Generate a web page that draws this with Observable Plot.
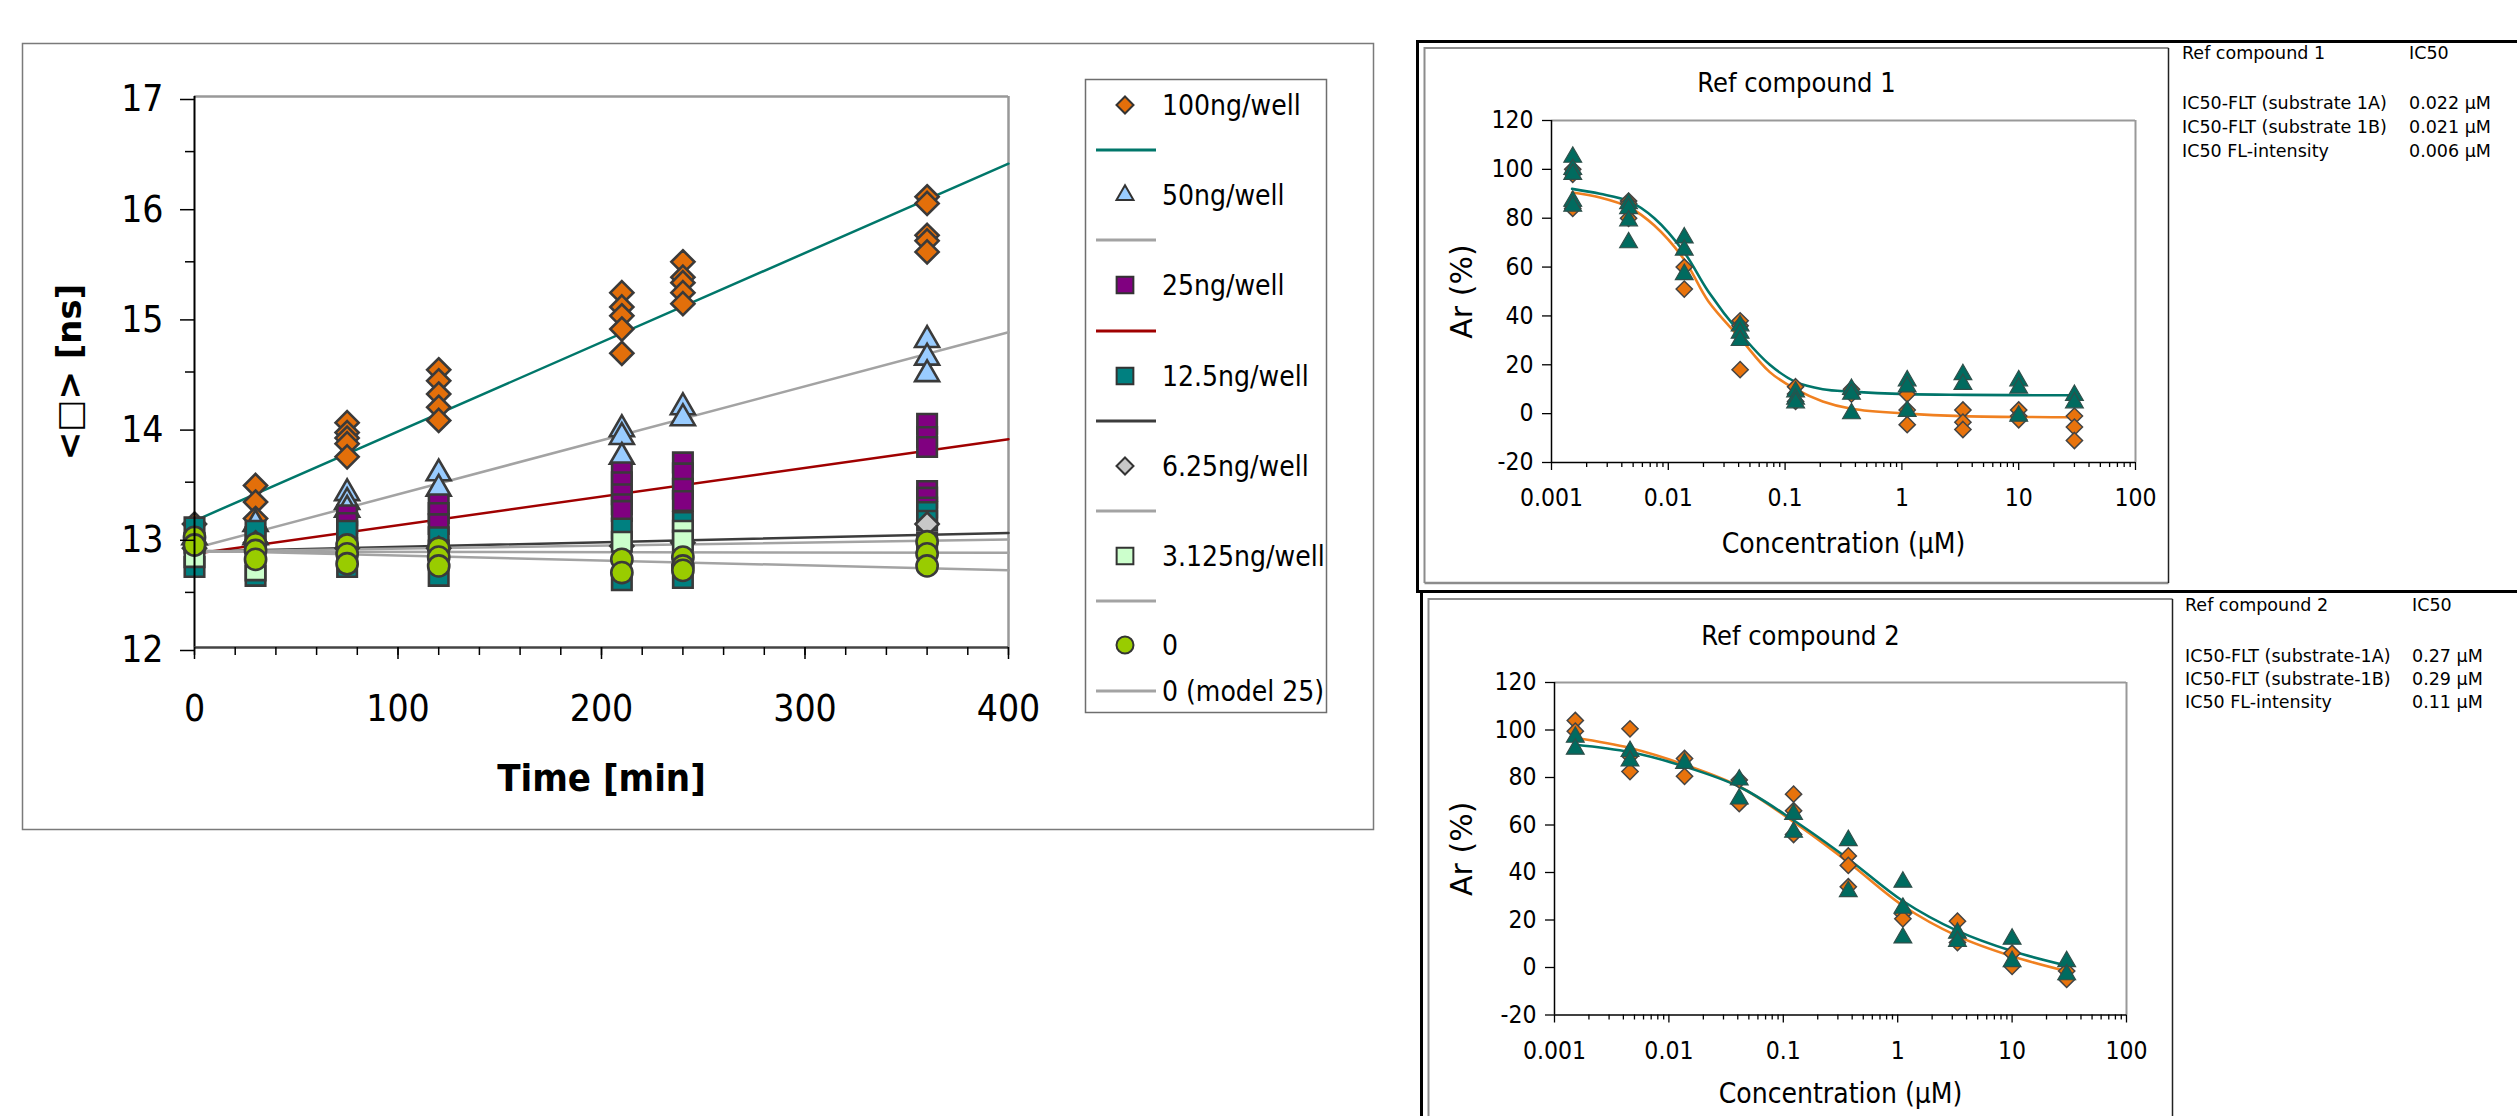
<!DOCTYPE html>
<html>
<head>
<meta charset="utf-8">
<script src="https://cdn.jsdelivr.net/npm/d3@7"></script>
<script src="https://cdn.jsdelivr.net/npm/@observablehq/plot@0.6"></script>
<style>
html,body{margin:0;padding:0;background:#fff;}
body{width:2517px;height:1116px;position:relative;overflow:hidden;}
.chart{position:absolute;}
.chart svg{display:block;overflow:visible;}
</style>
</head>
<body>
<script>
// ---------------- DATA: lifetime <tau> vs time (left chart) ----------------
const times = [0, 30, 75, 120, 210, 240, 360];
const tau100 = [[13.12],[13.47,13.32,13.17],[14.04,13.95,13.9,13.85,13.73],[14.52,14.42,14.30,14.18,14.06],[15.22,15.09,15.01,14.89,14.67],[15.50,15.36,15.31,15.22,15.12],[16.09,16.03,15.74,15.69,15.59]];
const tau50  = [[13.0],[13.12,13.0],[13.40,13.32,13.25],[13.58,13.44],[13.98,13.91,13.73],[14.18,14.08],[14.79,14.63,14.48]];
const tau25  = [[12.95],[13.0],[13.2,13.13,13.05],[13.3,13.22,13.12],[13.59,13.50,13.39,13.30,13.24],[13.68,13.58,13.44,13.33],[14.03,13.91,13.82,13.42,13.36,13.27]];
const tau12  = [[13.09,12.73],[13.06,12.65],[13.06,12.73],[13.0,12.65],[13.08,12.61],[13.14,12.63],[13.23,13.15]];
const tau6   = [[12.9],[12.95],[12.9],[12.9],[12.92],[12.95],[13.12]];
const tau3   = [[12.82],[12.70],[12.9],[12.88],[12.96],[13.06,12.97],[12.95]];
const tau0   = [[13.0,12.93],[12.94,12.88,12.80],[12.93,12.85,12.76],[12.9,12.82,12.74],[12.80,12.68],[12.82,12.74,12.70],[12.96,12.85,12.74]];
const seriesNames = ["100ng/well","50ng/well","25ng/well","12.5ng/well","6.25ng/well","3.125ng/well","0"];

const modelTimes = [0, 400];
const model100 = [13.15, 16.39];
const model50  = [12.90, 14.86];
const model25  = [12.85, 13.89];
const model12  = [12.87, 13.04];
const model6   = [12.87, 12.98];
const model3   = [12.87, 12.86];
const model0   = [12.88, 12.70];
const modelNames = ["", "", "", "", "", "", "0 (model 25)"];

const yTicksLeft = [12, 13, 14, 15, 16, 17];
const xTicksLeft = [0, 100, 200, 300, 400];

// ---------------- DATA: dose-response panels ----------------
const conc = [0.00152, 0.00457, 0.0137, 0.0412, 0.123, 0.370, 1.11, 3.33, 10, 30];
const ref1Orange = [[100,98,85,84],[87,86,80],[60,51],[38,36,18],[11,8,5],[10,8],[8,1.5,-4.5],[1.5,-3.5,-6.5],[1.5,-1,-2.5],[-1,-5.5,-11]];
const ref1Teal   = [[105,100,98,87,85],[86,84,79,70],[72,67,57],[36,33,30],[9,6,4.5],[10,8,0],[13.5,11,1],[16,12],[13.5,10.5,-1],[7.5,4.5]];
const ref1CurveX      = [0.0015,0.0026,0.0046,0.0076,0.0137,0.022,0.041,0.074,0.123,0.21,0.37,1.11,3.33,30];
const ref1CurveTeal   = [92,90,87,80,66,50,33,20,13,10,9,8,7.7,7.5];
const ref1CurveOrange = [90.5,88.5,84.5,77,63,46,31,17,10,5,2,0,-1,-1.5];

const ref2Orange = [[104,99.5],[100.5,89,82.5],[88,80.5],[79,69],[73,66,56],[47,43,34],[22.5,20.5],[19.5,10.5],[6,0.5],[-1.5,-5]];
const ref2Teal   = [[97,92],[91,87],[86],[79,71],[64.5,57],[53.5,32],[36,25,12.5],[14.5,11],[12,2.5],[2.5,-3]];
const ref2CurveOrange = [96.7,92.4,85.4,76.2,61.3,44.3,26,13.2,4.7,-1.6];
const ref2CurveTeal   = [93.8,90.7,84.6,76.1,62,45.7,28,15.4,6.9,0.8];

const concTicks = [0.001, 0.01, 0.1, 1, 10, 100];
const arTicks = [-20, 0, 20, 40, 60, 80, 100, 120];

const table1Title = ["Ref compound 1", "IC50"];
const table1Rows = [["IC50-FLT (substrate 1A)","0.022 µM"],["IC50-FLT (substrate 1B)","0.021 µM"],["IC50 FL-intensity","0.006 µM"]];
const table2Title = ["Ref compound 2", "IC50"];
const table2Rows = [["IC50-FLT (substrate-1A)","0.27 µM"],["IC50-FLT (substrate-1B)","0.29 µM"],["IC50 FL-intensity","0.11 µM"]];

// ---------------- STYLES ----------------
const COND = "'DejaVu Sans Condensed','Liberation Sans Narrow','DejaVu Sans',sans-serif";
const SANS = "'DejaVu Sans',Verdana,sans-serif";
const seriesStyle = [
  {symbol:"diamond2", r:10.4, fill:"#e36f0a", d3s:d3.symbolDiamond2, lsize:184},
  {symbol:"triangle", r:8.9, fill:"#99ccff", d3s:d3.symbolTriangle, lsize:125},
  {symbol:"square",   r:11.0, fill:"#800080", d3s:d3.symbolSquare, lsize:280},
  {symbol:"square",   r:11.0, fill:"#008080", d3s:d3.symbolSquare, lsize:280},
  {symbol:"diamond2", r:10.4, fill:"#c8c8c8", d3s:d3.symbolDiamond2, lsize:184},
  {symbol:"square",   r:11.0, fill:"#ccffcc", d3s:d3.symbolSquare, lsize:280},
  {symbol:"circle",   r:10.6, fill:"#99cc00", d3s:d3.symbolCircle, lsize:227}
];
const modelStyle = ["#00776a","#a3a3a3","#a00000","#3c3c3c","#a3a3a3","#a3a3a3","#a3a3a3"];

const tauSeries = [tau100, tau50, tau25, tau12, tau6, tau3, tau0];
const models = [model100, model50, model25, model12, model6, model3, model0];

function tidy(groups, xs) {
  return groups.flatMap((vals, i) => vals.map(v => ({x: xs[i], y: v})));
}
function pairs(xs, ys) { return xs.map((x, i) => ({x, y: ys[i]})); }
const plain = d => String(d);

// ---------------- OVERLAY (frames + tables) ----------------
const W = 2517, H = 1116;
const ov = d3.select("body").append("svg")
  .attr("width", W).attr("height", H)
  .style("position","absolute").style("left","0px").style("top","0px");

ov.append("rect").attr("x",22.5).attr("y",43.5).attr("width",1351).attr("height",786)
  .attr("fill","none").attr("stroke","#7a7a7a").attr("stroke-width",1.5);
const blk = ov.append("g").attr("stroke","#000").attr("stroke-width",3).attr("fill","none");
blk.append("path").attr("d","M1416,41.5H2517");
blk.append("path").attr("d","M1417.5,40V593");
blk.append("path").attr("d","M1416,591.5H2517");
blk.append("path").attr("d","M1421.5,590V1116");
function innerBox(x, y, w, h) {
  const g = ov.append("g").attr("fill","none");
  g.append("path").attr("d",`M${x},${y+h}V${y}H${x+w}`).attr("stroke","#8c8c8c").attr("stroke-width",2);
  g.append("path").attr("d",`M${x},${y+h}H${x+w}`).attr("stroke","#8c8c8c").attr("stroke-width",2.5);
  g.append("path").attr("d",`M${x+w},${y}V${y+h}`).attr("stroke","#222").attr("stroke-width",1.5);
}
innerBox(1424.5, 48, 744, 535);
innerBox(1428.5, 599, 744, 540);

function table(x0, x1, yTitle, yRows, title, rows) {
  const g = ov.append("g").style("font-family", SANS).style("font-size","17.5px").attr("fill","#000");
  g.append("text").attr("x", x0).attr("y", yTitle).text(title[0]);
  g.append("text").attr("x", x1).attr("y", yTitle).text(title[1]);
  rows.forEach((r, i) => {
    g.append("text").attr("x", x0).attr("y", yRows[i]).text(r[0]);
    g.append("text").attr("x", x1).attr("y", yRows[i]).text(r[1]);
  });
}
table(2182, 2409, 59, [109, 133, 157], table1Title, table1Rows);
table(2185, 2412, 611, [662, 685, 708], table2Title, table2Rows);

function place(el, left, top) {
  const d = document.createElement("div");
  d.className = "chart";
  d.style.left = left + "px";
  d.style.top = top + "px";
  d.appendChild(el);
  document.body.appendChild(d);
}

// ---------------- LEFT CHART ----------------
{
  const marks = [
    Plot.ruleY([17], {stroke:"#999", strokeWidth:2.5}),
    Plot.ruleX([400], {stroke:"#999", strokeWidth:2.5})
  ];
  models.forEach((m, i) => {
    marks.push(Plot.line(pairs(modelTimes, m), {x:"x", y:"y", stroke: modelStyle[i], strokeWidth: 2.5}));
  });
  tauSeries.forEach((s, i) => {
    const st = seriesStyle[i];
    marks.push(Plot.dot(tidy(s, times), {x:"x", y:"y", symbol: st.symbol, r: st.r, fill: st.fill, stroke:"#3a3a3a", strokeWidth: 2.6}));
  });
  marks.push(
    Plot.ruleX([0], {stroke:"#000", strokeWidth:2}),
    Plot.ruleY([12], {stroke:"#444", strokeWidth:2.5}),
    Plot.axisY({ticks: yTicksLeft, tickSize: 14, tickPadding: 17, dy: 3, tickFormat: plain, label: null, strokeWidth: 1.5}),
    Plot.axisY({ticks: d3.range(12.5, 17, 1), tickSize: 9, tickFormat: () => "", label: null, strokeWidth: 1.5}),
    Plot.axisX({ticks: xTicksLeft, tickSize: 12, tickPadding: 35, tickFormat: plain, label: null, strokeWidth: 1.5}),
    Plot.axisX({ticks: d3.range(0, 401, 20), tickSize: 8, tickFormat: () => "", label: null, strokeWidth: 1.5}),
    Plot.text(["Time [min]"], {frameAnchor: "bottom", dy: 143, lineAnchor: "bottom", fontWeight: "bold", fontSize: 38}),
    Plot.text(["<□> [ns]"], {frameAnchor: "left", textAnchor: "middle", dx: -124, rotate: -90, fontWeight: "bold", fontSize: 34, fontFamily: SANS})
  );
  const p = Plot.plot({
    width: 1352, height: 787,
    marginLeft: 172, marginRight: 366, marginTop: 53, marginBottom: 183,
    x: {domain: [0, 400]},
    y: {domain: [12, 17]},
    style: {fontFamily: COND, fontSize: "37px", color: "#000", background: "none", overflow: "visible"},
    marks
  });
  place(p, 22, 43);
}

// ---------------- DOSE-RESPONSE PANELS ----------------
function dosePanel(o) {
  const minor = [];
  for (let k = -3; k <= 1; k++) for (let m = 2; m <= 9; m++) minor.push(m * Math.pow(10, k));
  const p = Plot.plot({
    width: o.width, height: o.height,
    marginLeft: o.mL, marginRight: o.mR, marginTop: o.mT, marginBottom: o.mB,
    x: {type: "log", domain: [0.001, 100]},
    y: {domain: [-20, 120]},
    style: {fontFamily: COND, fontSize: "24.5px", color: "#000", background: "none", overflow: "visible"},
    marks: [
      Plot.ruleY([120], {stroke:"#999", strokeWidth:2}),
      Plot.ruleX([100], {stroke:"#999", strokeWidth:2}),
      Plot.line(pairs(o.curveX, o.curveOrange), {x:"x", y:"y", stroke:"#f08020", strokeWidth:2.6, curve:"catmull-rom"}),
      Plot.line(pairs(o.curveX, o.curveTeal), {x:"x", y:"y", stroke:"#00756a", strokeWidth:2.6, curve:"catmull-rom"}),
      Plot.dot(tidy(o.orange, conc), {x:"x", y:"y", symbol:"diamond2", r:7.3, fill:"#e8730c", stroke:"#444", strokeWidth:1.5}),
      Plot.dot(tidy(o.teal, conc), {x:"x", y:"y", symbol:"triangle", r:6.6, fill:"#006b5f", stroke:"#2f4f4a", strokeWidth:1.2}),
      Plot.ruleX([0.001], {stroke:"#000", strokeWidth:1.5}),
      Plot.ruleY([-20], {stroke:"#000", strokeWidth:1.5}),
      Plot.axisY({ticks: arTicks, tickSize: 9, tickPadding: 9, tickFormat: plain, label: null, strokeWidth: 1.3}),
      Plot.axisX({ticks: concTicks, tickSize: 8, tickPadding: o.xPad, tickFormat: plain, label: null, strokeWidth: 1.3}),
      Plot.axisX({ticks: minor, tickSize: 5, tickFormat: () => "", label: null, strokeWidth: 1.3}),
      Plot.text([o.title], {frameAnchor: "top", dx: o.titleDx, dy: o.titleDy, lineAnchor: "bottom", fontSize: 27}),
      Plot.text(["Concentration (µM)"], {frameAnchor: "bottom", dy: o.xlabDy, lineAnchor: "bottom", fontSize: 28}),
      Plot.text(["Ar (%)"], {frameAnchor: "left", textAnchor: "middle", dx: o.ylabDx, rotate: -90, fontSize: 30, fontFamily: SANS})
    ]
  });
  place(p, o.left, o.top);
}

dosePanel({left: 1424, top: 48, width: 744, height: 535, mL: 127, mR: 33, mT: 72, mB: 121,
  title: "Ref compound 1", titleDx: -47, titleDy: -29, xlabDy: 90, ylabDx: -89, xPad: 18,
  orange: ref1Orange, teal: ref1Teal, curveX: ref1CurveX, curveOrange: ref1CurveOrange, curveTeal: ref1CurveTeal});

dosePanel({left: 1428, top: 599, width: 744, height: 517, mL: 126, mR: 46, mT: 83, mB: 101.5,
  title: "Ref compound 2", titleDx: -40, titleDy: -38, xlabDy: 88, ylabDx: -92, xPad: 19,
  orange: ref2Orange, teal: ref2Teal, curveX: conc, curveOrange: ref2CurveOrange, curveTeal: ref2CurveTeal});

// ---------------- LEGEND (left chart) ----------------
{
  const lg = d3.select("body").append("svg")
    .attr("width", W).attr("height", H)
    .style("position","absolute").style("left","0px").style("top","0px")
    .style("pointer-events","none");
  lg.append("rect").attr("x",1085.5).attr("y",79.5).attr("width",241).attr("height",633)
    .attr("fill","#fff").attr("stroke","#6e6e6e").attr("stroke-width",1.5);
  const rowY = [105, 150, 195, 240, 285, 331, 376, 421, 466, 511, 556, 601, 645, 691];
  const g = lg.append("g").style("font-family", COND).style("font-size","28px");
  seriesNames.forEach((name, i) => {
    const ys = rowY[2*i], yl = rowY[2*i+1];
    const st = seriesStyle[i];
    g.append("path").attr("transform", `translate(1125,${ys})`)
      .attr("d", d3.symbol(st.d3s, st.lsize)())
      .attr("fill", st.fill).attr("stroke","#333").attr("stroke-width",2);
    g.append("text").attr("x",1162).attr("y",ys).attr("dy","0.36em").text(name);
    g.append("line").attr("x1",1096).attr("x2",1156).attr("y1",yl).attr("y2",yl)
      .attr("stroke", modelStyle[i]).attr("stroke-width",3);
    if (modelNames[i]) g.append("text").attr("x",1162).attr("y",yl).attr("dy","0.36em").text(modelNames[i]);
  });
}
</script>
</body>
</html>
